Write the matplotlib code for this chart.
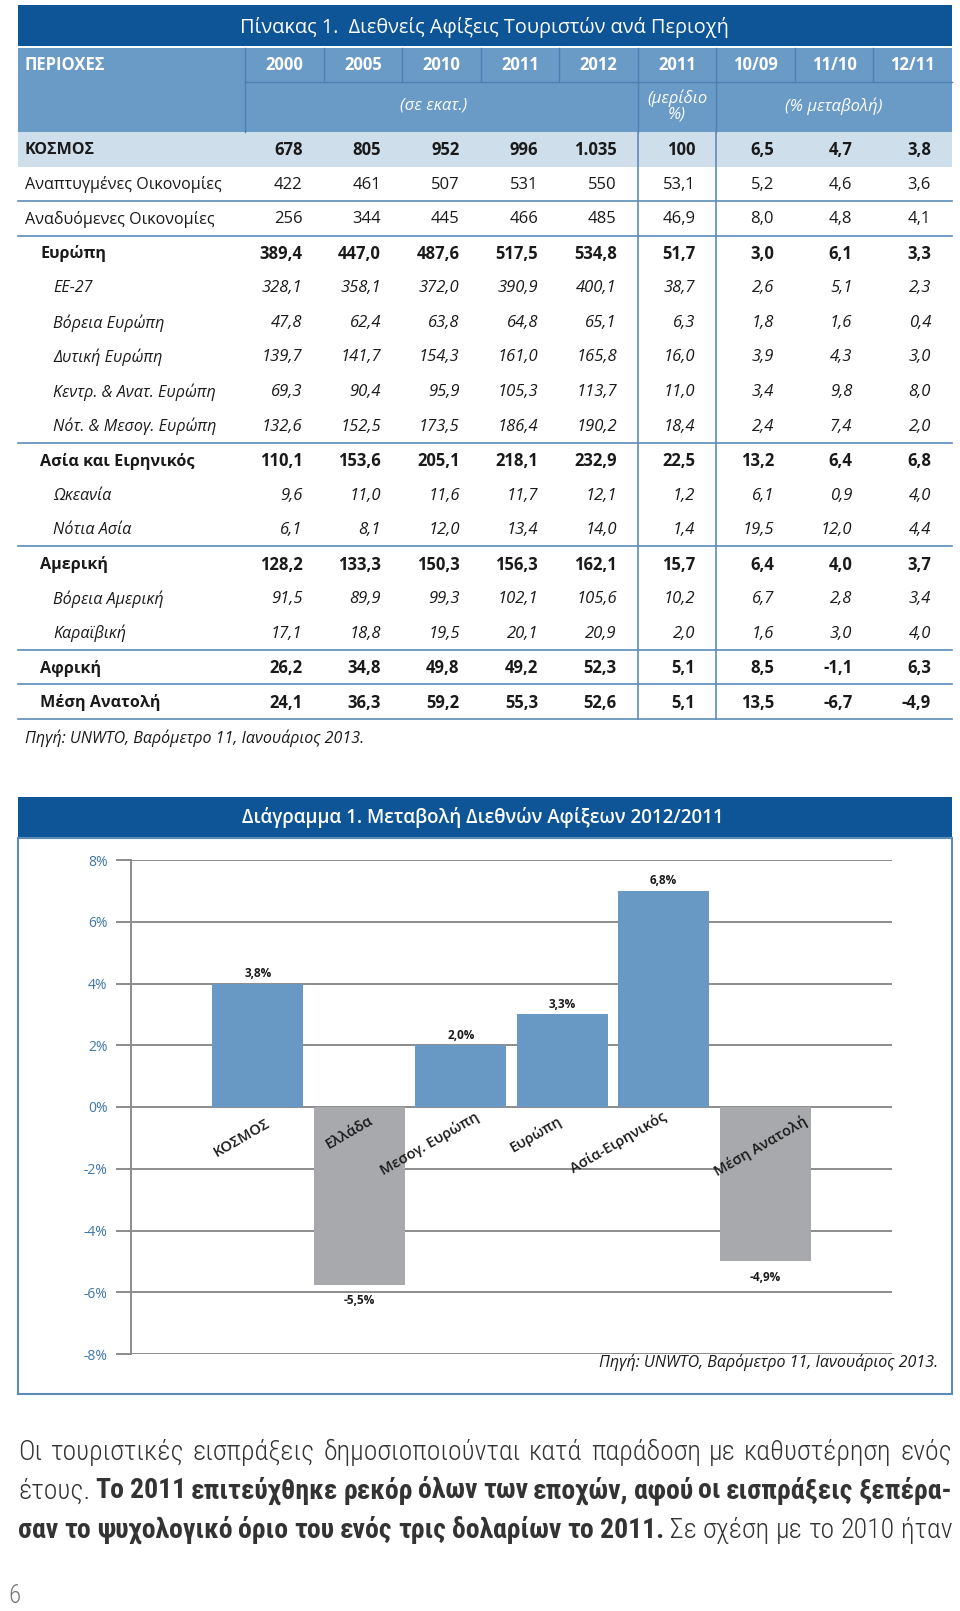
import numpy as np
import matplotlib

matplotlib.use("Agg")
import matplotlib.pyplot as plt
from matplotlib.patches import Rectangle
from matplotlib import font_manager

# ---------------------------------------------------------------- table data
table_title = "Πίνακας 1.  Διεθνείς Αφίξεις Τουριστών ανά Περιοχή"
header_first = "ΠΕΡΙΟΧΕΣ"
header_years = ["2000", "2005", "2010", "2011", "2012", "2011", "10/09", "11/10", "12/11"]
table_source = "Πηγή: UNWTO, Βαρόμετρο 11, Ιανουάριος 2013."

regions = ["ΚΟΣΜΟΣ", "Αναπτυγμένες Οικονομίες", "Αναδυόμενες Οικονομίες",
           "Ευρώπη", "ΕΕ-27", "Βόρεια Ευρώπη", "Δυτική Ευρώπη",
           "Κεντρ. & Ανατ. Ευρώπη", "Νότ. & Μεσογ. Ευρώπη",
           "Ασία και Ειρηνικός", "Ωκεανία", "Νότια Ασία",
           "Αμερική", "Βόρεια Αμερική", "Καραϊβική", "Αφρική", "Μέση Ανατολή"]
region_level = [0, 0, 0, 1, 2, 2, 2, 2, 2, 1, 2, 2, 1, 2, 2, 1, 1]

arrivals_2000 = [678, 422, 256, 389.4, 328.1, 47.8, 139.7, 69.3, 132.6,
                 110.1, 9.6, 6.1, 128.2, 91.5, 17.1, 26.2, 24.1]
arrivals_2005 = [805, 461, 344, 447.0, 358.1, 62.4, 141.7, 90.4, 152.5,
                 153.6, 11.0, 8.1, 133.3, 89.9, 18.8, 34.8, 36.3]
arrivals_2010 = [952, 507, 445, 487.6, 372.0, 63.8, 154.3, 95.9, 173.5,
                 205.1, 11.6, 12.0, 150.3, 99.3, 19.5, 49.8, 59.2]
arrivals_2011 = [996, 531, 466, 517.5, 390.9, 64.8, 161.0, 105.3, 186.4,
                 218.1, 11.7, 13.4, 156.3, 102.1, 20.1, 49.2, 55.3]
arrivals_2012 = [1035, 550, 485, 534.8, 400.1, 65.1, 165.8, 113.7, 190.2,
                 232.9, 12.1, 14.0, 162.1, 105.6, 20.9, 52.3, 52.6]
share_2011 = [100, 53.1, 46.9, 51.7, 38.7, 6.3, 16.0, 11.0, 18.4,
              22.5, 1.2, 1.4, 15.7, 10.2, 2.0, 5.1, 5.1]
change_10_09 = [6.5, 5.2, 8.0, 3.0, 2.6, 1.8, 3.9, 3.4, 2.4,
                13.2, 6.1, 19.5, 6.4, 6.7, 1.6, 8.5, 13.5]
change_11_10 = [4.7, 4.6, 4.8, 6.1, 5.1, 1.6, 4.3, 9.8, 7.4,
                6.4, 0.9, 12.0, 4.0, 2.8, 3.0, -1.1, -6.7]
change_12_11 = [3.8, 3.6, 4.1, 3.3, 2.3, 0.4, 3.0, 8.0, 2.0,
                6.8, 4.0, 4.4, 3.7, 3.4, 4.0, 6.3, -4.9]

# ---------------------------------------------------------------- chart data
chart_title = "Διάγραμμα 1. Μεταβολή Διεθνών Αφίξεων 2012/2011"
bar_categories = ["ΚΟΣΜΟΣ", "Ελλάδα", "Μεσογ. Ευρώπη", "Ευρώπη", "Ασία-Ειρηνικός", "Μέση Ανατολή"]
bar_heights = [4.0, -5.75, 2.0, 3.0, 7.0, -5.0]      # as drawn
bar_values = [3.8, -5.5, 2.0, 3.3, 6.8, -4.9]        # as printed
bar_is_grey = [False, True, False, False, False, True]
y_ticks = [-8, -6, -4, -2, 0, 2, 4, 6, 8]
chart_source = "Πηγή: UNWTO, Βαρόμετρο 11, Ιανουάριος 2013."

paragraph = [
    [("Οι τουριστικές εισπράξεις δημοσιοποιούνται κατά παράδοση με καθυστέρηση ενός", False)],
    [("έτους.", False), ("Το 2011 επιτεύχθηκε ρεκόρ όλων των εποχών, αφού οι εισπράξεις ξεπέρα-", True)],
    [("σαν το ψυχολογικό όριο του ενός τρις δολαρίων το 2011.", True), ("Σε σχέση με το 2010 ήταν", False)],
]
page_number = "6"

# ---------------------------------------------------------------- style
available = {f.name for f in font_manager.fontManager.ttflist}
FONT = "Open Sans" if "Open Sans" in available else "DejaVu Sans"
NARROW = "Roboto Condensed" if "Roboto Condensed" in available else FONT
plt.rcParams["font.family"] = [FONT, "DejaVu Sans"]

DARK_BLUE = "#0d5597"
MID_BLUE = "#6a9ac6"
SEP_BLUE = "#4d80b2"
LIGHT_BLUE = "#cfdeeb"
LINE_BLUE = "#5c8cba"
BAR_BLUE = "#6899c4"
BAR_GREY = "#a7a9ac"
GRID_GREY = "#8c8c8c"
TEXT = "#1a1a1a"

W, H = 960, 1611
fig = plt.figure(figsize=(W / 100, H / 100), dpi=100)
page = fig.add_axes([0, 0, 1, 1])
page.set_xlim(0, W)
page.set_ylim(H, 0)
page.axis("off")


def fmt(v):
    if isinstance(v, int):
        return "{:,}".format(v).replace(",", ".")
    return "{:.1f}".format(v).replace(".", ",")


# ---------------------------------------------------------------- table
L, R = 18, 952
col_edges = np.linspace(245, 952, 10)
row_top, row_h = 132, 34.53

page.add_patch(Rectangle((L, 5), R - L, 41, color=DARK_BLUE, lw=0))
page.text(484, 27, table_title, color="white", fontsize=14.3, ha="center", va="center")

page.add_patch(Rectangle((L, 48), R - L, row_top - 48, color=MID_BLUE, lw=0))
page.text(25, 65, header_first, color="white", fontsize=12, weight="bold", va="center")
for i, lab in enumerate(header_years):
    cx = (col_edges[i] + col_edges[i + 1]) / 2
    page.text(cx, 65, lab, color="white", fontsize=12, weight="bold", ha="center", va="center")
for x in col_edges[:-1]:
    page.plot([x, x], [48, 82], color=SEP_BLUE, lw=1)
page.plot([col_edges[0], R], [82, 82], color=SEP_BLUE, lw=1)
for x in [col_edges[0], col_edges[5], col_edges[6]]:
    page.plot([x, x], [82, row_top], color=SEP_BLUE, lw=1)
page.text(434, 106, "(σε εκατ.)", color="white",
          fontsize=12, style="italic", ha="center", va="center")
page.text((col_edges[5] + col_edges[6]) / 2, 106, "(μερίδιο\n%)", color="white",
          fontsize=12, style="italic", ha="center", va="center", linespacing=1.0)
page.text((col_edges[6] + R) / 2, 106, "(% μεταβολή)", color="white",
          fontsize=12, style="italic", ha="center", va="center")

columns = [arrivals_2000, arrivals_2005, arrivals_2010, arrivals_2011, arrivals_2012,
           share_2011, change_10_09, change_11_10, change_12_11]
page.add_patch(Rectangle((L, row_top), R - L, row_h, color=LIGHT_BLUE, lw=0))
indent = {0: 25, 1: 40, 2: 53}
for r, name in enumerate(regions):
    y = row_top + row_h * (r + 0.5) + 1
    lvl = region_level[r]
    weight = "bold" if (r == 0 or lvl == 1) else "normal"
    style = "italic" if lvl == 2 else "normal"
    page.text(indent[lvl], y, name, fontsize=11.6, color=TEXT, weight=weight, style=style, va="center")
    for c, col in enumerate(columns):
        page.text(col_edges[c + 1] - 21, y, fmt(col[r]), fontsize=12, color=TEXT,
                  weight=weight, style=style, ha="right", va="center")

for r in [1, 2, 8, 11, 14, 15, 16]:
    yy = row_top + row_h * (r + 1)
    page.plot([L, R], [yy, yy], color=LINE_BLUE, lw=1.2)
for x in [col_edges[5], col_edges[6]]:
    page.plot([x, x], [row_top, row_top + row_h * 17], color=LINE_BLUE, lw=1.2)
page.text(25, 738, table_source, fontsize=11.5, color=TEXT, style="italic", va="center")

# ---------------------------------------------------------------- chart frame
page.add_patch(Rectangle((L, 797), R - L, 41, color=DARK_BLUE, lw=0))
page.text(483, 818, chart_title, color="white", fontsize=13.5, weight="semibold",
          ha="center", va="center")
page.add_patch(Rectangle((L, 838), R - L, 1394 - 838, fill=False, ec=LINE_BLUE, lw=1.5))

ax = fig.add_axes([131 / W, 1 - 1354 / H, 761 / W, 494 / H])
ax.set_xlim(-1.25, 6.25)
ax.set_ylim(-8, 8)
x = np.arange(len(bar_categories))
colors = [BAR_GREY if g else BAR_BLUE for g in bar_is_grey]
ax.bar(x, bar_heights, width=0.9, color=colors, zorder=3)
ax.set_yticks(y_ticks)
ax.set_yticklabels(["{}%".format(t) for t in y_ticks], color="#3f76ad", fontsize=10)
ax.yaxis.grid(True, color=GRID_GREY, lw=1.4)
ax.set_axisbelow(True)
ax.tick_params(axis="y", length=11, width=1.4, color=GRID_GREY, pad=6)
ax.set_xticks([])
for s in ["top", "right", "bottom"]:
    ax.spines[s].set_visible(False)
ax.spines["left"].set_color(GRID_GREY)
ax.spines["left"].set_linewidth(1.4)
ax.patch.set_alpha(0)

for xi, h, v in zip(x, bar_heights, bar_values):
    lab = "{:.1f}%".format(v).replace(".", ",")
    yy = h + 0.33 if h > 0 else h - 0.52
    ax.text(xi, yy, lab, fontsize=8.5, weight="bold", ha="center", va="center", color=TEXT, zorder=4)

# label offsets in pixels (centre of rotated label relative to bar centre / zero line)
label_dx = [-16, -10, -31, -26, -45, -4]
label_dy = [31, 25, 37, 27, 35, 39]
px_x = 7.5 / 761
px_y = 16 / 494
for xi, name, dx, dy in zip(x, bar_categories, label_dx, label_dy):
    ax.text(xi + dx * px_x, -dy * px_y, name, rotation=30, fontsize=10.5, weight="semibold",
            ha="center", va="center", rotation_mode="anchor", color=TEXT, zorder=5)

page.text(938, 1362, chart_source, fontsize=11.5, color=TEXT, style="italic", ha="right", va="center")

# ---------------------------------------------------------------- paragraph (justified)
renderer = fig.canvas.get_renderer()
line_y = [1452, 1491, 1530]
for ly, parts in zip(line_y, paragraph):
    words = []
    for txt, bold in parts:
        for w in txt.split():
            words.append((w, bold))
    items = []
    for w, bold in words:
        t = page.text(0, ly, w, fontsize=20, color="#333333", family=[NARROW, "DejaVu Sans"],
                      weight="bold" if bold else "light", va="center")
        items.append(t)
    widths = [t.get_window_extent(renderer).width for t in items]
    gap = (R - L - sum(widths)) / (len(items) - 1)
    xpos = L
    for t, wd in zip(items, widths):
        t.set_x(xpos)
        xpos += wd + gap

page.text(8, 1596, page_number, fontsize=18, color="#777777", family=[NARROW, "DejaVu Sans"],
          weight="light", va="center")

fig.savefig("out.png", dpi=100)
